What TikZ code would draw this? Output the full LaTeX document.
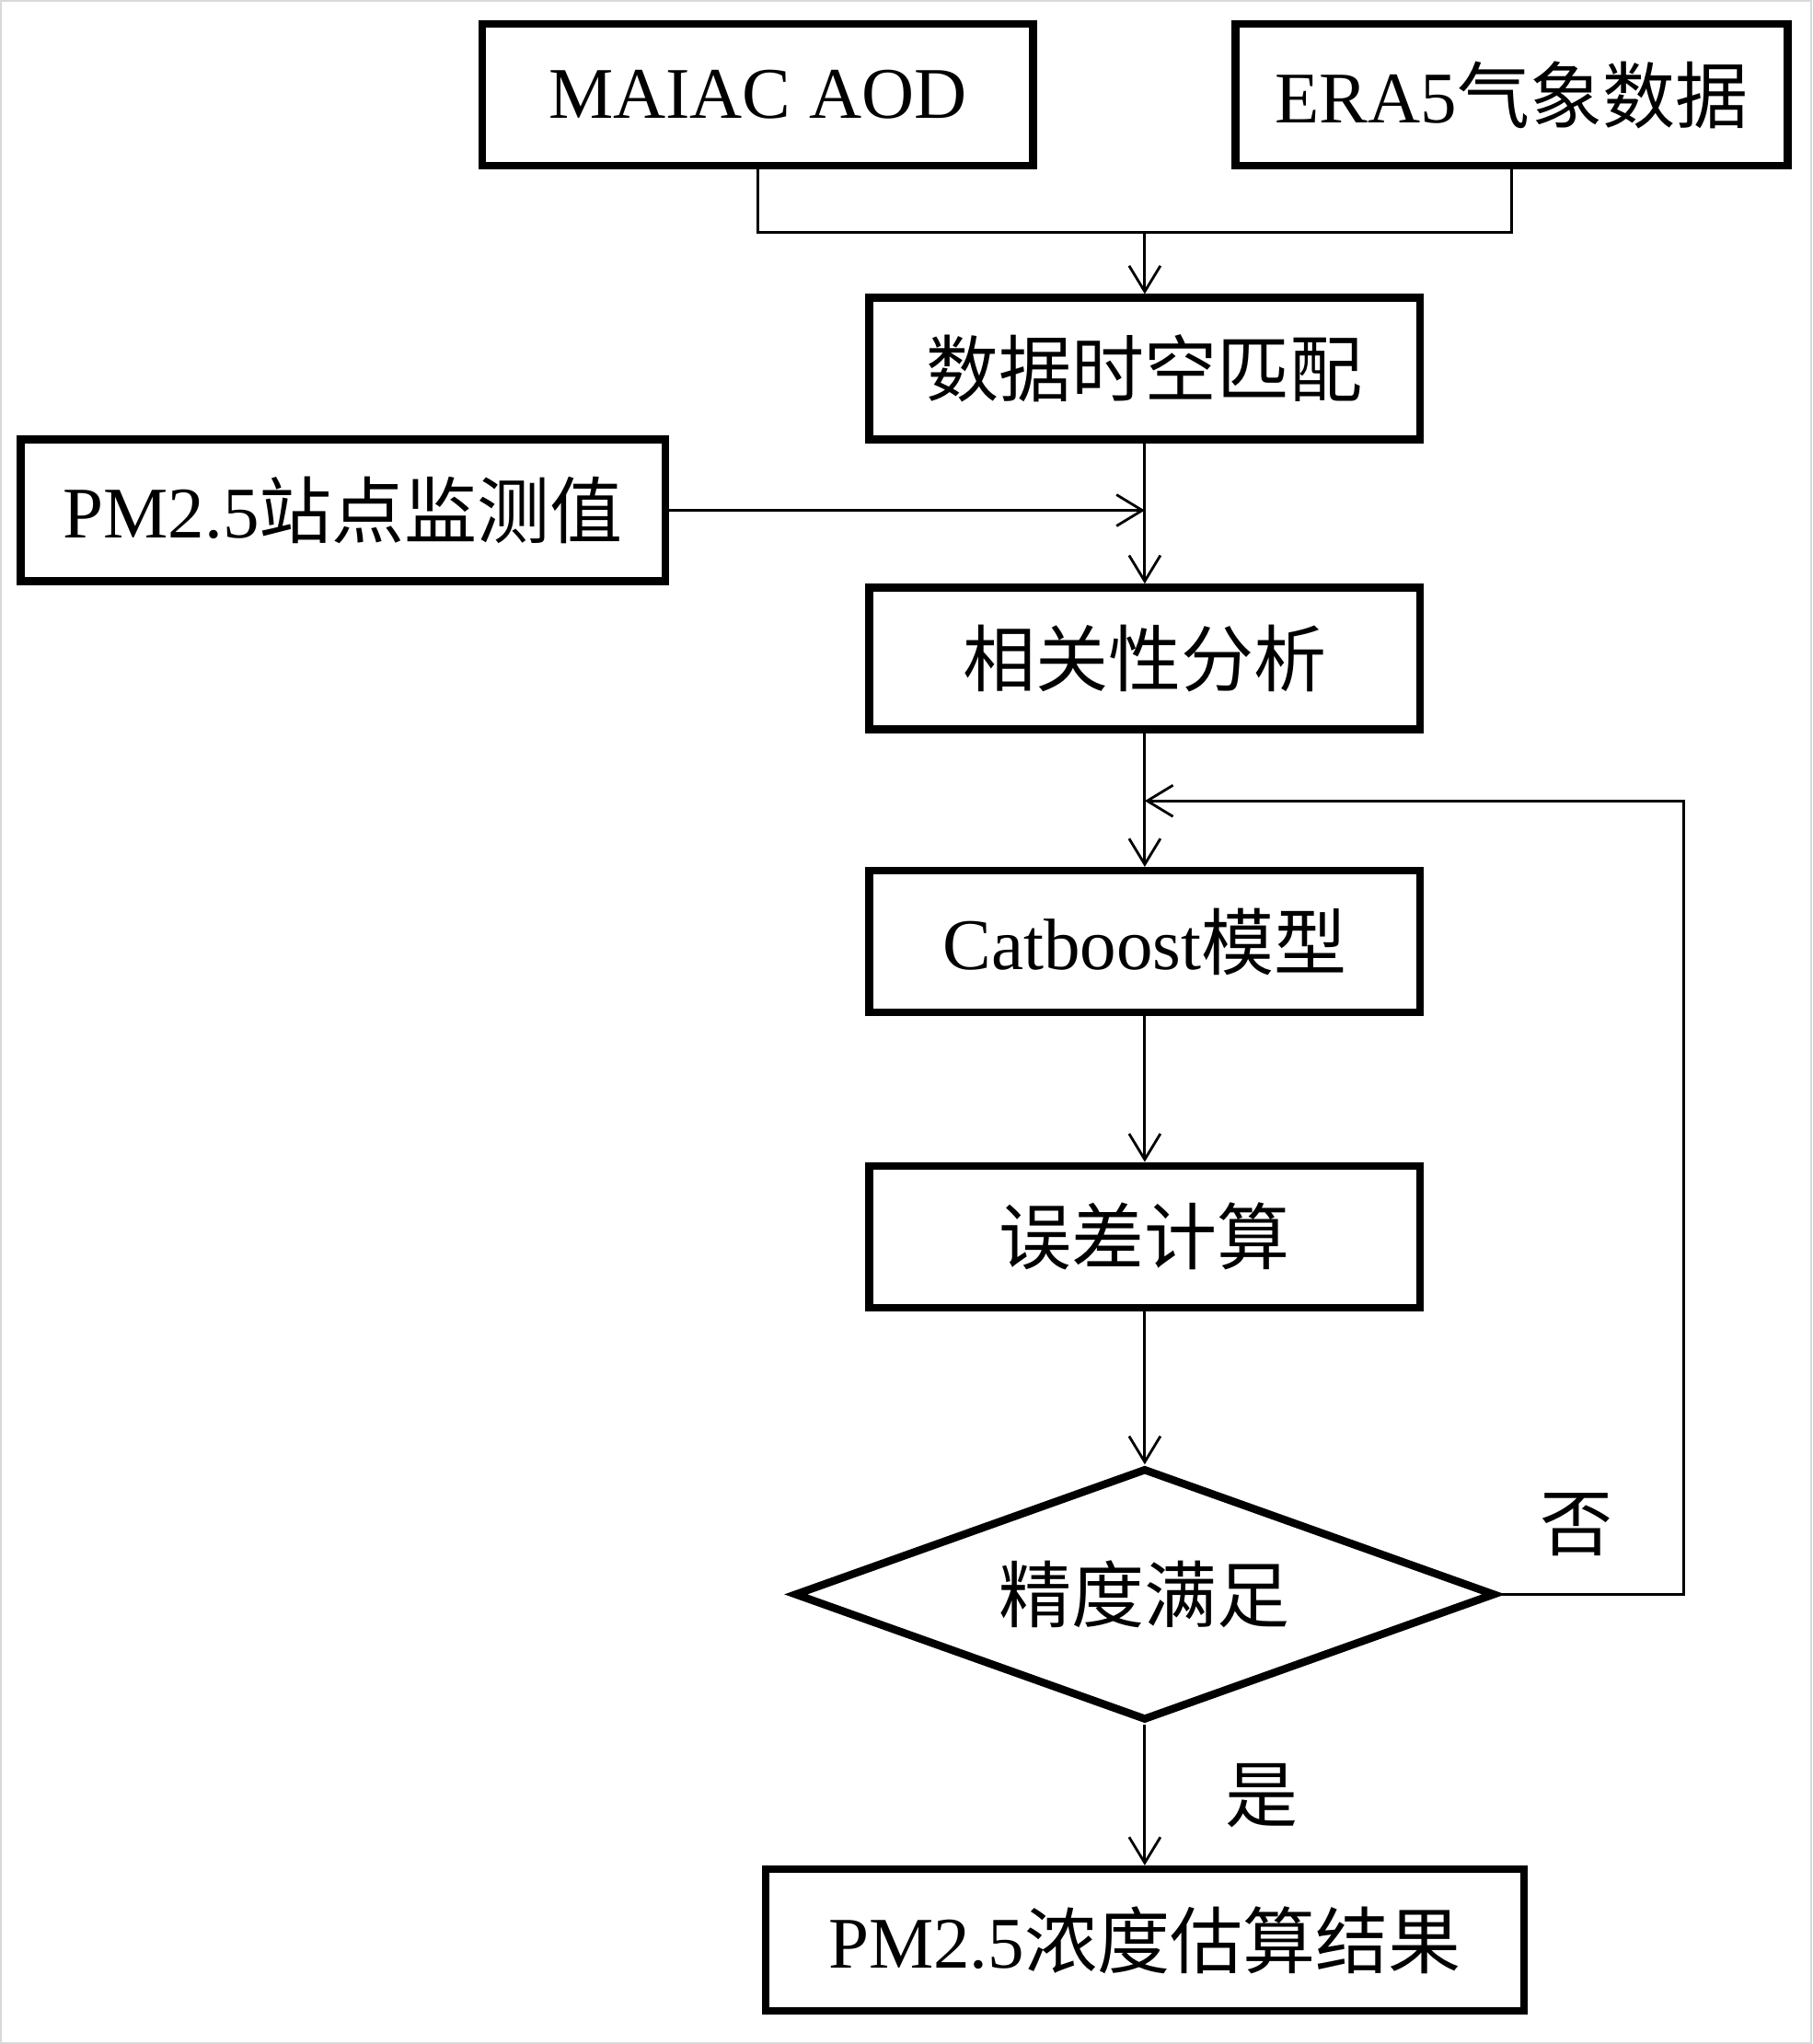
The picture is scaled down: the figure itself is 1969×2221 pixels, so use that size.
\documentclass[tikz,border=0pt]{standalone}
\usepackage{fontspec}
\setmainfont{Liberation Serif}
\newfontfamily\cjk{Noto Sans CJK SC}
\usetikzlibrary{positioning,shapes.geometric,arrows.meta}

\tikzset{
  stepbox/.style={draw,line width=2.4pt,minimum width=5.99cm,minimum height=1.54cm,inner sep=0pt},
  conn/.style={line width=0.8pt},
  arr/.style={conn,-{Straight Barb[length=0.28cm,width=0.34cm,line width=0.8pt]}}
}

\begin{document}
\begin{tikzpicture}[x=0.01cm,y=-0.01cm,font=\fontsize{22.5pt}{27pt}\selectfont]
        \draw[gray!30,line width=0.6pt] (0,0) rectangle (1969,2221);
        % inputs
        \node[stepbox] (maiac) at (823,102) {MAIAC AOD};
        \node[stepbox,minimum width=6.0cm] (era) at (1643,102) {ERA5\cjk 气象数据};
        \node[stepbox,minimum width=7.01cm] (pm) at (372,554) {PM2.5\cjk 站点监测值};
        % main chain
        \node[stepbox] (match) at (1244,400) {\cjk 数据时空匹配};
        \node[stepbox] (corr) at (1244,715) {\cjk 相关性分析};
        \node[stepbox] (model) at (1244,1023) {Catboost\cjk 模型};
        \node[stepbox] (err) at (1244,1344) {\cjk 误差计算};
        \node[draw,line width=2.4pt,diamond,aspect=2.78,inner sep=0pt,minimum width=7.62cm,minimum height=2.74cm] (check) at (1244,1733) {\cjk 精度满足};
        \node[stepbox,minimum width=8.24cm] (res) at (1244,2109) {PM2.5\cjk 浓度估算结果};
        \coordinate (join) at (1244,252);
        \coordinate (back) at (1244,870);
        \coordinate (loop) at (1830,870);
        \draw[conn] (maiac.south) |- (join) -| (era.south);
        \draw[arr] (join) -- (match.north);
        \draw[arr] (pm.east) -- (pm.east -| match.south);
        \draw[arr] (match.south) -- (corr.north);
        \draw[arr] (corr.south) -- (model.north);
        \draw[arr] (model.south) -- (err.north);
        \draw[arr] (err.south) -- (check.north);
        \draw[arr] (check.east) -| (loop) -- (back);
        \draw[arr] (check.south) -- (res.north);
        \node (no) at (1714,1657) {\cjk 否};
        \node (yes) at (1371,1952) {\cjk 是};
    \end{tikzpicture}
\end{document}
